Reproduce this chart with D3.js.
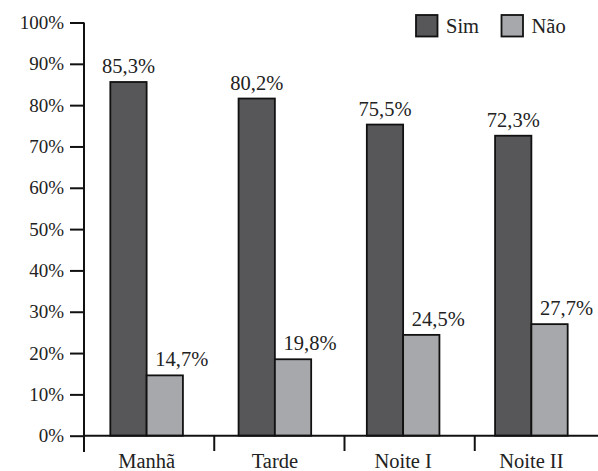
<!DOCTYPE html>
<html>
<head>
<meta charset="utf-8">
<script src="https://cdn.jsdelivr.net/npm/d3@7"></script>
<style>
  body { margin: 0; background: #fff; }
</style>
</head>
<body>
<div id="chart"></div>
<script>
// data
const periods = ['Manhã', 'Tarde', 'Noite I', 'Noite II'];
const series = ['Sim', 'Não'];
const simValues = [85.6, 81.6, 75.3, 72.6];
const naoValues = [14.6, 18.5, 24.4, 27.0];
const simLabels = ['85,3%', '80,2%', '75,5%', '72,3%'];
const naoLabels = ['14,7%', '19,8%', '24,5%', '27,7%'];
const yTicks = [0, 10, 20, 30, 40, 50, 60, 70, 80, 90, 100];

const colors = { 'Sim': '#575759', 'Não': '#a7a8ab' };
const serif = "'Liberation Serif', 'Times New Roman', Times, 'DejaVu Serif', serif";

const svg = d3.select('#chart')
    .append('svg')
    .attr('width', 598)
    .attr('height', 471);

const y = d3.scaleLinear()
    .domain([0, 100])
    .range([435.7, 22.5]);

// bar groups
const x0 = d3.scaleBand()
    .domain(periods)
    .range([82.5, 595.5]);

const x1 = d3.scaleBand()
    .domain(series)
    .range([0, 72.6]);

// tick boundaries on the category axis
const xTick = d3.scaleBand()
    .domain(periods)
    .range([84, 605]);

const data = periods.map((p, i) => ({
    period: p,
    values: [
        { key: 'Sim', value: simValues[i], label: simLabels[i] },
        { key: 'Não', value: naoValues[i], label: naoLabels[i] }
    ]
}));

const groups = svg.selectAll('.group')
    .data(data)
    .enter().append('g')
    .attr('class', 'group')
    .attr('transform', d => 'translate(' + (x0(d.period) + x0.bandwidth() / 2 - 36.3) + ',0)');

groups.selectAll('rect')
    .data(d => d.values)
    .enter().append('rect')
    .attr('x', d => x1(d.key))
    .attr('y', d => y(d.value))
    .attr('width', x1.bandwidth())
    .attr('height', d => y(0) - y(d.value))
    .attr('fill', d => colors[d.key])
    .attr('stroke', '#111')
    .attr('stroke-width', 1.8);

// y axis
const yAxis = svg.append('g')
    .attr('transform', 'translate(84,0)')
    .call(d3.axisLeft(y).tickValues(yTicks).tickFormat(d => d + '%').tickSize(14).tickPadding(6));
yAxis.select('.domain').remove();
yAxis.selectAll('line').attr('stroke', '#111').attr('stroke-width', 2);

svg.append('line')
    .attr('x1', 84).attr('x2', 84)
    .attr('y1', y(100)).attr('y2', 452)
    .attr('stroke', '#111').attr('stroke-width', 2);

// x axis
svg.append('line')
    .attr('x1', 84).attr('x2', 598)
    .attr('y1', y(0)).attr('y2', y(0))
    .attr('stroke', '#111').attr('stroke-width', 2);

svg.selectAll('.xtick')
    .data(periods.slice(1))
    .enter().append('line')
    .attr('class', 'xtick')
    .attr('x1', d => xTick(d)).attr('x2', d => xTick(d))
    .attr('y1', y(0)).attr('y2', 451)
    .attr('stroke', '#111').attr('stroke-width', 2);

// all text in the serif face
svg.selectAll('text')
    .attr('font-family', null)
    .style('font-family', serif)
    .style('font-size', '19px')
    .style('fill', '#222');

svg.selectAll('.xlabel')
    .data(periods)
    .enter().append('text')
    .attr('class', 'xlabel')
    .attr('x', d => x0(d) + x0.bandwidth() / 2)
    .attr('y', 468)
    .attr('text-anchor', 'middle')
    .style('font-family', serif)
    .style('font-size', '20.5px')
    .style('fill', '#222')
    .text(d => d);

groups.selectAll('.lbl')
    .data(d => d.values)
    .enter().append('text')
    .attr('class', 'lbl')
    .attr('x', d => x1(d.key) + x1.bandwidth() / 2 + (d.key === 'Não' ? 17 : 0))
    .attr('y', d => y(d.value) - 9)
    .attr('text-anchor', 'middle')
    .style('font-family', serif)
    .style('font-size', '20.5px')
    .style('fill', '#222')
    .text(d => d.label);

// legend
const legendX = [416, 501.5];
const legend = svg.selectAll('.legend')
    .data(series)
    .enter().append('g')
    .attr('class', 'legend')
    .attr('transform', (d, i) => 'translate(' + legendX[i] + ',15)');

legend.append('rect')
    .attr('width', 21.5)
    .attr('height', 21.5)
    .attr('fill', d => colors[d])
    .attr('stroke', '#111')
    .attr('stroke-width', 1.8);

legend.append('text')
    .attr('x', 30)
    .attr('y', 17.5)
    .style('font-family', serif)
    .style('font-size', '20.5px')
    .style('fill', '#222')
    .text(d => d);
</script>
</body>
</html>
